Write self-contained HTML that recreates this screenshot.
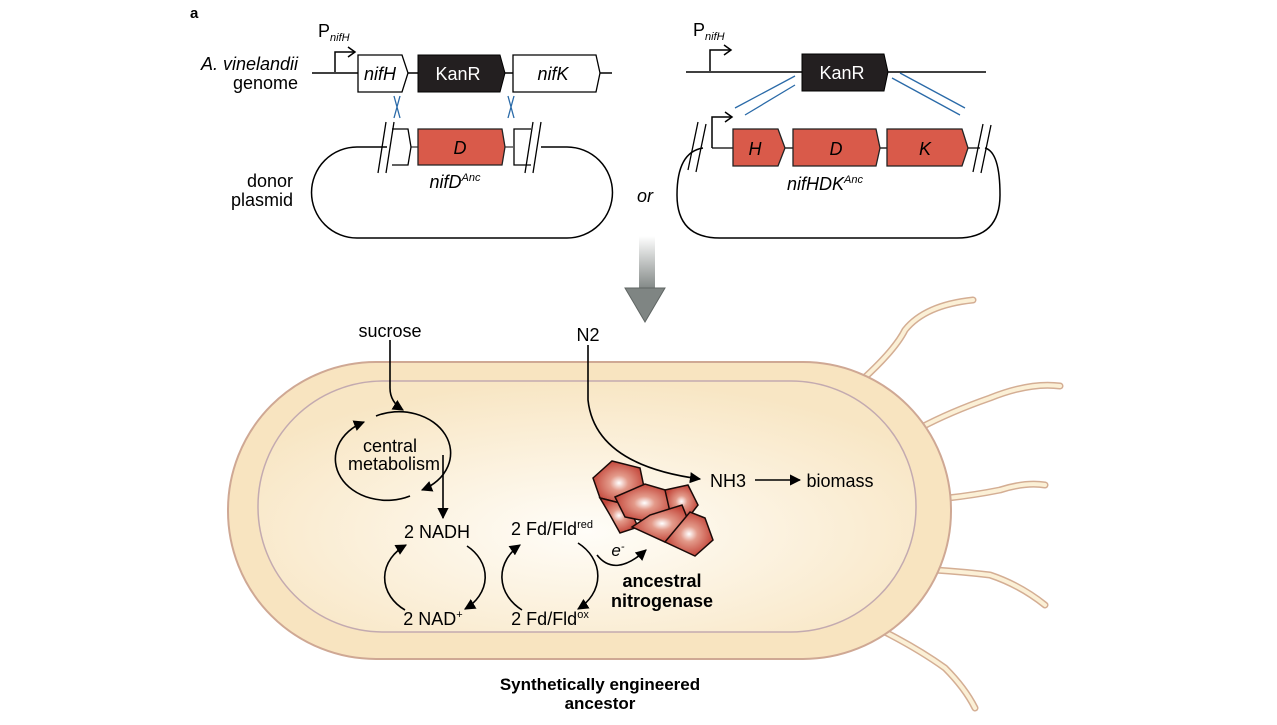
<!DOCTYPE html>
<html><head><meta charset="utf-8"><style>
body{margin:0;background:#fff;width:1277px;height:720px;overflow:hidden}
svg{font-family:"Liberation Sans",Arial,sans-serif}
</style></head><body>
<svg width="1277" height="720" viewBox="0 0 1277 720">
<defs>
<linearGradient id="sh" x1="0" y1="0" x2="0" y2="1"><stop offset="0" stop-color="#fff"/><stop offset="1" stop-color="#7f8583"/></linearGradient>
<radialGradient id="cell" cx="0.5" cy="0.6" r="0.6"><stop offset="0" stop-color="#fffdf8"/><stop offset="1" stop-color="#f8e6c4"/></radialGradient>
<radialGradient id="blob" cx="0.5" cy="0.5" r="0.5"><stop offset="0" stop-color="#fff"/><stop offset="0.35" stop-color="#e39a8a"/><stop offset="1" stop-color="#c4483c"/></radialGradient>
<marker id="ah" viewBox="0 0 10 10" refX="9" refY="5" markerWidth="7" markerHeight="7" orient="auto"><path d="M0,0L10,5L0,10z" fill="#000"/></marker>
</defs>
<text x="190" y="18" font-size="15" font-weight="bold">a</text>
<!-- left genome -->
<text x="318" y="37" font-size="18">P<tspan font-size="11" font-style="italic" dy="4">nifH</tspan></text>
<text x="298" y="70" font-size="18" text-anchor="end" font-style="italic">A. vinelandii</text>
<text x="298" y="89" font-size="18" text-anchor="end">genome</text>
<line x1="312" y1="73" x2="612" y2="73" stroke="#000" stroke-width="1.5"/>
<path d="M335,72V52H354" fill="none" stroke="#000" stroke-width="1.5"/><path d="M348,47L355,52L348,57" fill="none" stroke="#000" stroke-width="1.5"/>
<path d="M358,55H402L408,73L402,92H358Z" fill="#fff" stroke="#000" stroke-width="1.3"/>
<text x="380" y="80" font-size="18" font-style="italic" text-anchor="middle">nifH</text>
<path d="M418,55H500L505,73L500,92H418Z" fill="#231f20" stroke="#000"/>
<text x="458" y="80" font-size="18" fill="#fff" text-anchor="middle">KanR</text>
<path d="M513,55H596L600,73L596,92H513Z" fill="#fff" stroke="#000" stroke-width="1.3"/>
<text x="553" y="80" font-size="18" font-style="italic" text-anchor="middle">nifK</text>
<path d="M394,96L400,118M400,96L394,118M508,96L514,118M514,96L508,118" stroke="#2a6aa8" stroke-width="1.3"/>
<!-- left plasmid -->
<path d="M387,147H357A45,45 0 0 0 357,238H567A45,45 0 0 0 567,147H541" fill="none" stroke="#000" stroke-width="1.5"/>
<line x1="405" y1="147" x2="418" y2="147" stroke="#000"/><line x1="505" y1="147" x2="513" y2="147" stroke="#000"/>
<path d="M392,129H408L411,147L408,165H392" fill="#fff" stroke="#000" stroke-width="1.3"/>
<path d="M531,129H514V165H531" fill="#fff" stroke="#000" stroke-width="1.3"/>
<path d="M378,173L386,122M386,173L394,122M525,173L533,122M533,173L541,122" stroke="#000" stroke-width="1.3"/>
<path d="M418,129H502L505,147L502,165H418Z" fill="#d95a4a" stroke="#222" stroke-width="1.3"/>
<text x="460" y="154" font-size="18" font-style="italic" text-anchor="middle">D</text>
<text x="455" y="188" font-size="18" font-style="italic" text-anchor="middle">nifD<tspan font-size="11" dy="-7">Anc</tspan></text>
<text x="293" y="187" font-size="18" text-anchor="end">donor</text>
<text x="293" y="206" font-size="18" text-anchor="end">plasmid</text>
<text x="645" y="202" font-size="18" font-style="italic" text-anchor="middle">or</text>
<!-- right genome -->
<text x="693" y="36" font-size="18">P<tspan font-size="11" font-style="italic" dy="4">nifH</tspan></text>
<line x1="686" y1="72" x2="986" y2="72" stroke="#000" stroke-width="1.5"/>
<path d="M710,71V50H730" fill="none" stroke="#000" stroke-width="1.5"/><path d="M724,45L731,50L724,55" fill="none" stroke="#000" stroke-width="1.5"/>
<path d="M802,54H884L888,72L884,91H802Z" fill="#231f20" stroke="#000"/>
<text x="842" y="79" font-size="18" fill="#fff" text-anchor="middle">KanR</text>
<path d="M735,108L795,76M745,115L795,85M892,78L960,115M900,73L965,108" stroke="#2a6aa8" stroke-width="1.3"/>
<!-- right plasmid -->
<path d="M703,148Q677,152 677,195Q677,238 720,238H957Q1000,238 1000,195Q1000,152 985,148" fill="none" stroke="#000" stroke-width="1.5"/>
<path d="M712,148H733M785,148H793M880,148H887M968,148H980" stroke="#000" stroke-width="1.3"/>
<path d="M712,148V117H731" fill="none" stroke="#000" stroke-width="1.5"/><path d="M725,112L732,117L725,122" fill="none" stroke="#000" stroke-width="1.5"/>
<path d="M688,170L698,122M696,172L706,124M973,172L983,124M981,173L991,125" stroke="#000" stroke-width="1.3"/>
<path d="M733,129H778L785,148L778,166H733Z" fill="#d95a4a" stroke="#222" stroke-width="1.3"/>
<text x="755" y="155" font-size="18" font-style="italic" text-anchor="middle">H</text>
<path d="M793,129H876L880,148L876,166H793Z" fill="#d95a4a" stroke="#222" stroke-width="1.3"/>
<text x="836" y="155" font-size="18" font-style="italic" text-anchor="middle">D</text>
<path d="M887,129H962L968,148L962,166H887Z" fill="#d95a4a" stroke="#222" stroke-width="1.3"/>
<text x="925" y="155" font-size="18" font-style="italic" text-anchor="middle">K</text>
<text x="825" y="190" font-size="18" font-style="italic" text-anchor="middle">nifHDK<tspan font-size="11" dy="-7">Anc</tspan></text>
<!-- big arrow -->
<rect x="639" y="236" width="16" height="54" fill="url(#sh)"/>
<path d="M625,288H665L645,322Z" fill="#7f8583" stroke="#5f6563"/>
<!-- flagella -->
<g fill="none" stroke-linecap="round">
<g stroke="#d4ae94" stroke-width="7">
<path d="M862,380Q895,350 905,330Q925,305 973,300"/>
<path d="M920,428Q950,412 990,398Q1030,382 1060,386"/>
<path d="M948,498Q975,495 1000,490Q1025,482 1045,485"/>
<path d="M935,570Q965,572 990,575Q1020,585 1045,605"/>
<path d="M885,632Q920,650 945,668Q965,688 975,708"/>
</g>
<g stroke="#fbf0d6" stroke-width="4">
<path d="M862,380Q895,350 905,330Q925,305 973,300"/>
<path d="M920,428Q950,412 990,398Q1030,382 1060,386"/>
<path d="M948,498Q975,495 1000,490Q1025,482 1045,485"/>
<path d="M935,570Q965,572 990,575Q1020,585 1045,605"/>
<path d="M885,632Q920,650 945,668Q965,688 975,708"/>
</g></g>
<!-- cell -->
<rect x="228" y="362" width="723" height="297" rx="148" fill="#f8e4c0" stroke="#cfa894" stroke-width="2"/>
<rect x="258" y="381" width="658" height="251" rx="125" fill="url(#cell)" stroke="#c3aab0" stroke-width="1.5"/>
<!-- metabolism -->
<g stroke="#000" stroke-width="1.6" fill="none">
<path d="M390,340V388Q390,402 403,410" marker-end="url(#ah)"/>
<path d="M410,496A50,40 0 0 1 364,422" marker-end="url(#ah)"/>
<path d="M376,416A50,40 0 0 1 422,490" marker-end="url(#ah)"/>
<path d="M443,455V518" marker-end="url(#ah)"/>
<path d="M405,610A50,40 0 0 1 406,545" marker-end="url(#ah)"/>
<path d="M467,546A50,40 0 0 1 465,609" marker-end="url(#ah)"/>
<path d="M522,610A52,42 0 0 1 520,545" marker-end="url(#ah)"/>
<path d="M578,543A52,42 0 0 1 578,609" marker-end="url(#ah)"/>
<path d="M597,555Q615,578 646,550" marker-end="url(#ah)"/>
<path d="M588,345V400Q595,465 700,479" marker-end="url(#ah)"/>
<path d="M755,480H800" marker-end="url(#ah)"/>
</g>
<text x="390" y="337" font-size="18" text-anchor="middle">sucrose</text>
<text x="390" y="452" font-size="18" text-anchor="middle">central</text>
<text x="394" y="470" font-size="18" text-anchor="middle">metabolism</text>
<text x="437" y="538" font-size="18" text-anchor="middle">2 NADH</text>
<text x="433" y="625" font-size="18" text-anchor="middle">2 NAD<tspan font-size="11" dy="-7">+</tspan></text>
<text x="552" y="535" font-size="18" text-anchor="middle">2 Fd/Fld<tspan font-size="11" dy="-7">red</tspan></text>
<text x="550" y="625" font-size="18" text-anchor="middle">2 Fd/Fld<tspan font-size="11" dy="-7">ox</tspan></text>
<text x="618" y="556" font-size="17" font-style="italic" text-anchor="middle">e<tspan font-size="11" dy="-6">-</tspan></text>
<text x="588" y="341" font-size="18" text-anchor="middle">N2</text>
<text x="728" y="487" font-size="18" text-anchor="middle">NH3</text>
<text x="840" y="487" font-size="18" text-anchor="middle">biomass</text>
<!-- nitrogenase -->
<g stroke="#1a0a08" stroke-width="1.5">
<path d="M593,478L612,461L640,468L645,492L628,505L600,498Z" fill="url(#blob)"/>
<path d="M600,498L628,505L638,527L620,533L610,515Z" fill="url(#blob)"/>
<path d="M615,497L645,484L672,492L674,514L650,522L625,517Z" fill="url(#blob)"/>
<path d="M665,490L688,485L698,505L688,518L670,512Z" fill="url(#blob)"/>
<path d="M632,527L650,515L682,505L692,530L665,542Z" fill="url(#blob)"/>
<path d="M665,542L690,512L705,518L713,540L695,556Z" fill="url(#blob)"/>
</g>
<text x="662" y="587" font-size="18" font-weight="bold" text-anchor="middle">ancestral</text>
<text x="662" y="607" font-size="18" font-weight="bold" text-anchor="middle">nitrogenase</text>
<text x="600" y="690" font-size="17" font-weight="bold" text-anchor="middle">Synthetically engineered</text>
<text x="600" y="709" font-size="17" font-weight="bold" text-anchor="middle">ancestor</text>
</svg>
</body></html>
